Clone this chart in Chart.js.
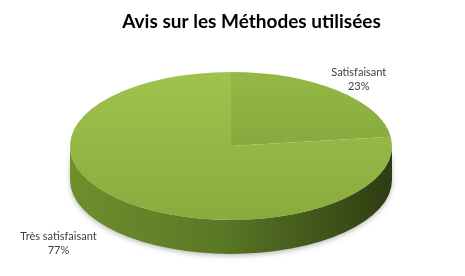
<!DOCTYPE html>
<html>
<head>
<meta charset="utf-8">
<script src="https://cdn.jsdelivr.net/npm/chart.js@4.4.1/dist/chart.umd.min.js"></script>
<style>
  html, body { margin: 0; padding: 0; background: #fff; }
  #wrap { width: 465px; height: 276px; }
</style>
</head>
<body>
<div id="wrap"><canvas id="pie"></canvas></div>
<script>
// données
const categories = ['Satisfaisant', 'Très satisfaisant'];
const values = [23, 77];
const chartTitle = 'Avis sur les Méthodes utilisées';

// couleurs du dessus (haut -> bas) par part
const topColors = [
  ['#93b846', '#7b9c37'],
  ['#9fc44d', '#88ab3d']
];

// ─── plugin "3D" : ellipse + paroi ─────────────────────
const pie3d = {
  id: 'pie3d',
  beforeDatasetsDraw(chart, args, opts) {
    const ctx = chart.ctx;
    const arcs = chart.getDatasetMeta(0).data;
    if (!arcs.length) return;
    const { cx, cy, rx, ry, depth } = opts;

    // paroi avant (seulement la moitié visible 0..π)
    ctx.save();
    const g = ctx.createLinearGradient(cx - rx, 0, cx + rx, 0);
    g.addColorStop(0, '#6f8f2e');
    g.addColorStop(0.45, '#5b7925');
    g.addColorStop(0.8, '#3f531a');
    g.addColorStop(1, '#2e3c12');
    ctx.fillStyle = g;
    ctx.shadowColor = 'rgba(0,0,0,0.25)';
    ctx.shadowBlur = 5;
    ctx.shadowOffsetY = 2;
    arcs.forEach(arc => {
      [-2 * Math.PI, 0, 2 * Math.PI].forEach(k => {
        const lo = Math.max(arc.startAngle, k);
        const hi = Math.min(arc.endAngle, k + Math.PI);
        if (hi <= lo) return;
        ctx.beginPath();
        ctx.ellipse(cx, cy, rx, ry, 0, lo, hi);
        ctx.ellipse(cx, cy + depth, rx, ry, 0, hi, lo, true);
        ctx.closePath();
        ctx.fill();
      });
    });
    ctx.restore();

    // on écrase le cercle en ellipse pour le dessus
    const a = arcs[0];
    ctx.save();
    ctx.translate(cx, cy);
    ctx.scale(rx / a.outerRadius, ry / a.outerRadius);
    ctx.translate(-a.x, -a.y);
  },
  afterDatasetsDraw(chart, args, opts) {
    const ctx = chart.ctx;
    const arcs = chart.getDatasetMeta(0).data;
    if (!arcs.length) return;
    ctx.restore();

    // étiquettes : nom + pourcentage
    const { cx, cy, rx, ry, depth, labelScale } = opts;
    const total = values.reduce((s, v) => s + v, 0);
    ctx.save();
    ctx.font = '11px Lato, "Open Sans", sans-serif';
    ctx.fillStyle = '#404040';
    ctx.textAlign = 'center';
    ctx.textBaseline = 'middle';
    arcs.forEach((arc, i) => {
      const mid = (arc.startAngle + arc.endAngle) / 2;
      const [kx, ky] = labelScale[i];
      const s = Math.sin(mid);
      const x = cx + Math.cos(mid) * rx * kx;
      const y = cy + s * ry * ky + (s > 0 ? depth : 0);
      ctx.fillText(categories[i], x, y - 7);
      ctx.fillText(Math.round(values[i] / total * 100) + '%', x, y + 7);
    });
    ctx.restore();
  }
};

new Chart(document.getElementById('pie'), {
  type: 'pie',
  data: {
    labels: categories,
    datasets: [{
      data: values,
      borderWidth: 0,
      backgroundColor(c) {
        const area = c.chart.chartArea;
        if (!area) return topColors[c.dataIndex][0];
        const g = c.chart.ctx.createLinearGradient(0, area.top, 0, area.bottom);
        g.addColorStop(0, topColors[c.dataIndex][0]);
        g.addColorStop(1, topColors[c.dataIndex][1]);
        return g;
      }
    }]
  },
  options: {
    responsive: true,
    maintainAspectRatio: false,
    animation: false,
    events: [],
    layout: { padding: { left: 38 } }, // décale le titre vers la droite
    plugins: {
      legend: { display: false },
      tooltip: { enabled: false },
      title: {
        display: true,
        text: chartTitle,
        color: '#000',
        font: { family: 'Lato, "Open Sans", sans-serif', size: 19, weight: 'bold' },
        padding: { top: 10, bottom: 8 }
      },
      pie3d: {
        cx: 231, cy: 146, rx: 161, ry: 74, depth: 34,
        labelScale: [[1.2, 1.2], [1.62, 1.15]]
      }
    }
  },
  plugins: [pie3d]
});
</script>
</body>
</html>
